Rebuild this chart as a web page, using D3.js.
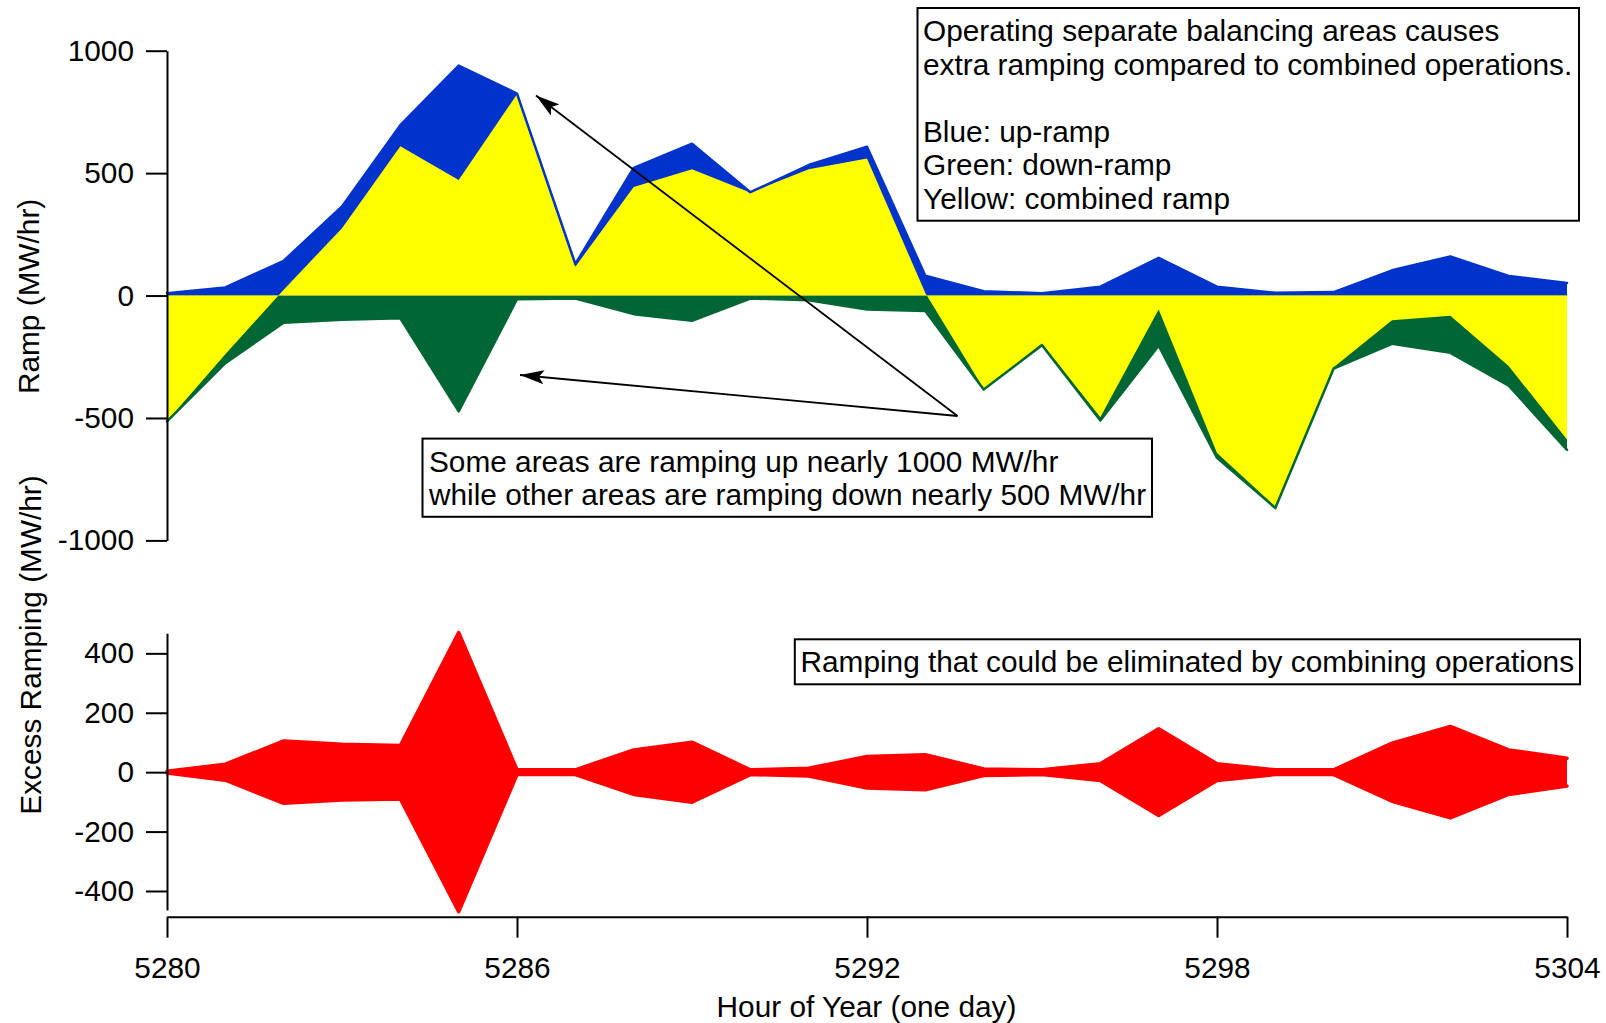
<!DOCTYPE html>
<html>
<head>
<meta charset="utf-8">
<script src="https://cdn.jsdelivr.net/npm/d3@7"></script>
<style>
  html, body { margin: 0; padding: 0; background: #ffffff; }
  svg { display: block; }
  text { font-family: "Liberation Sans", Arial, Helvetica, sans-serif; fill: #000; }
</style>
</head>
<body>
<svg id="chart" width="1606" height="1023"></svg>
<script>
// ---------------- data ----------------
const hours = [5280, 5281, 5282, 5283, 5284, 5285, 5286, 5287, 5288, 5289, 5290, 5291, 5292,
               5293, 5294, 5295, 5296, 5297, 5298, 5299, 5300, 5301, 5302, 5303, 5304];
const upRamp = [9, 33, 142, 364, 696, 939, 825, 129, 521, 620, 422, 533, 608,
                81, 18, 9, 36, 154, 36, 11, 14, 103, 160, 80, 51];
const downRamp = [-514, -276, -111, -99, -93, -473, -15, -12, -76, -103, -12, -19, -57,
                  -63, -384, -203, -510, -205, -663, -868, -298, -197, -234, -368, -630];
const combinedRamp = [-513, -240, 24, 275, 610, 472, 822, 118, 443, 516, 421, 516, 560,
                      10, -381, -196, -497, -57, -643, -862, -293, -101, -82, -288, -588];
const excessRamp = [3, 27, 105, 94, 90, 470, 8, 8, 75, 101, 8, 13, 53,
                    59, 11, 8, 28, 146, 28, 8, 8, 98, 154, 75, 47];

const rampTicks = [1000, 500, 0, -500, -1000];
const excessTicks = [400, 200, 0, -200, -400];
const hourTicks = [5280, 5286, 5292, 5298, 5304];

const rampLabel = "Ramp (MW/hr)";
const excessLabel = "Excess Ramping (MW/hr)";
const hourLabel = "Hour of Year (one day)";
const topNote = ["Operating separate balancing areas causes",
                 "extra ramping compared to combined operations.",
                 "",
                 "Blue: up-ramp",
                 "Green: down-ramp",
                 "Yellow: combined ramp"];
const midNote = ["Some areas are ramping up nearly 1000 MW/hr",
                 "while other areas are ramping down nearly 500 MW/hr"];
const bottomNote = ["Ramping that could be eliminated by combining operations"];

// ---------------- styles ----------------
const FONT = 29.8;
const BLUE = "#0033cc", GREEN = "#006633", YELLOW = "#ffff00", RED = "#ff0000";

const svg = d3.select("#chart");

// ---------------- scales ----------------
const x = d3.scaleLinear().domain([5280, 5304]).range([167, 1567]);
const y1 = d3.scaleLinear().domain([-1000, 1000]).range([540.4, 50.7]);
const y2 = d3.scaleLinear().domain([-464, 467.5]).range([910, 633.3]);

const idx = d3.range(hours.length);
const plainFmt = d => String(d);

// ---------------- top panel ----------------
const topG = svg.append("g");
const areaTo = (arr) => d3.area().x(i => x(hours[i])).y0(y1(0)).y1(i => y1(arr[i]));
const lineOf = (arr) => d3.line().x(i => x(hours[i])).y(i => y1(arr[i]));

topG.append("path").attr("d", areaTo(upRamp)(idx)).attr("fill", BLUE);
topG.append("path").attr("d", areaTo(downRamp)(idx)).attr("fill", GREEN);
topG.append("path").attr("d", areaTo(combinedRamp)(idx)).attr("fill", YELLOW);
topG.append("path").attr("d", lineOf(upRamp)(idx)).attr("fill", "none")
   .attr("stroke", BLUE).attr("stroke-width", 2.5)
   .attr("stroke-linejoin", "round").attr("stroke-linecap", "round");
topG.append("path").attr("d", lineOf(downRamp)(idx)).attr("fill", "none")
   .attr("stroke", GREEN).attr("stroke-width", 2.5)
   .attr("stroke-linejoin", "round").attr("stroke-linecap", "round");

// top y axis
const ax1 = svg.append("g").attr("transform", `translate(${x(5280)},0)`)
  .call(d3.axisLeft(y1).tickValues(rampTicks).tickFormat(plainFmt)
        .tickSize(21).tickSizeOuter(0).tickPadding(12));

// ---------------- bottom panel ----------------
const botG = svg.append("g");
const redArea = d3.area().x(i => x(hours[i])).y0(i => y2(-excessRamp[i])).y1(i => y2(excessRamp[i]));
const redUp = d3.line().x(i => x(hours[i])).y(i => y2(excessRamp[i]));
const redDn = d3.line().x(i => x(hours[i])).y(i => y2(-excessRamp[i]));
botG.append("path").attr("d", redArea(idx)).attr("fill", RED);
[redUp, redDn].forEach(l => botG.append("path").attr("d", l(idx)).attr("fill", "none")
   .attr("stroke", RED).attr("stroke-width", 3.5)
   .attr("stroke-linejoin", "round").attr("stroke-linecap", "round"));

const ax2 = svg.append("g").attr("transform", `translate(${x(5280)},0)`)
  .call(d3.axisLeft(y2).tickValues(excessTicks).tickFormat(plainFmt)
        .tickSize(21).tickSizeOuter(0).tickPadding(12));

const ax3 = svg.append("g").attr("transform", `translate(0,916.7)`)
  .call(d3.axisBottom(x).tickValues(hourTicks).tickFormat(plainFmt)
        .tickSize(21).tickSizeOuter(0).tickPadding(19));

[ax1, ax2, ax3].forEach(a => {
  a.selectAll("path.domain").attr("stroke", "#000").attr("stroke-width", 2);
  a.selectAll(".tick line").attr("stroke", "#000").attr("stroke-width", 2);
  a.selectAll(".tick text").attr("font-size", FONT)
    .attr("font-family", '"Liberation Sans", Arial, sans-serif').attr("fill", "#000");
});

// ---------------- axis titles ----------------
svg.append("text").attr("transform", "translate(39,296.4) rotate(-90)")
  .attr("text-anchor", "middle").attr("font-size", FONT).text(rampLabel);
svg.append("text").attr("transform", "translate(41,645) rotate(-90)")
  .attr("text-anchor", "middle").attr("font-size", FONT).text(excessLabel);
svg.append("text").attr("x", 866.5).attr("y", 1017)
  .attr("text-anchor", "middle").attr("font-size", FONT).text(hourLabel);

// ---------------- arrows ----------------
const defs = svg.append("defs");
defs.append("marker").attr("id", "arrow").attr("viewBox", "0 0 24 14")
  .attr("refX", 24).attr("refY", 7).attr("markerWidth", 24).attr("markerHeight", 14)
  .attr("markerUnits", "userSpaceOnUse").attr("orient", "auto")
  .append("path").attr("d", "M0,0 L24,7 L0,14 L5,7 Z").attr("fill", "#000");

const arrowStart = [957.5, 416];
const arrowEnds = [[536, 95.5], [520, 375]];
arrowEnds.forEach(e => {
  svg.append("line").attr("x1", arrowStart[0]).attr("y1", arrowStart[1])
    .attr("x2", e[0]).attr("y2", e[1]).attr("stroke", "#000").attr("stroke-width", 1.8)
    .attr("marker-end", "url(#arrow)");
});

// ---------------- annotation boxes ----------------
function noteBox(x0, y0, x1, y1b, tx, baselines, lines) {
  svg.append("rect").attr("x", x0).attr("y", y0).attr("width", x1 - x0).attr("height", y1b - y0)
    .attr("fill", "#fff").attr("stroke", "#000").attr("stroke-width", 2);
  lines.forEach((t, k) => {
    if (!t) return;
    svg.append("text").attr("x", tx).attr("y", baselines[k]).attr("font-size", FONT).text(t);
  });
}
noteBox(917.5, 8, 1579, 220.7, 923, [41, 74.5, 108, 141.5, 175, 208.5], topNote);
noteBox(422.5, 438.6, 1152, 516.8, 429, [471.5, 505], midNote);
noteBox(794.8, 639.3, 1580, 684.3, 800.5, [672], bottomNote);
</script>
</body>
</html>
